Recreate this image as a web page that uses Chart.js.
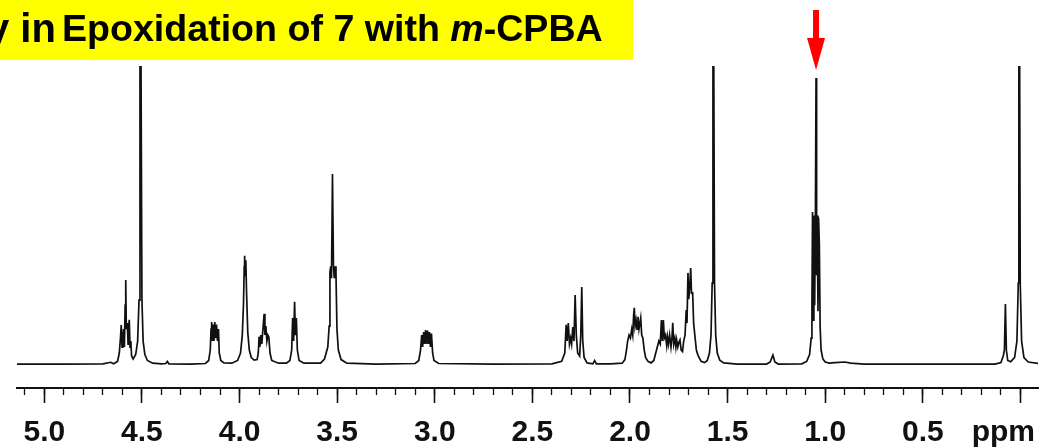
<!DOCTYPE html>
<html>
<head>
<meta charset="utf-8">
<script src="https://cdn.jsdelivr.net/npm/chart.js@4.4.1/dist/chart.umd.min.js"></script>
<style>
  html, body { margin: 0; padding: 0; background: #fff; }
  #wrap { width: 1041px; height: 447px; position: relative; }
</style>
</head>
<body>
<div id="wrap"><canvas id="nmr"></canvas></div>
<script>
// axis range (ppm runs right to left)
const ppmMin = -0.09;
const ppmMax = 5.14;
const majorStep = 0.5;
const minorStep = 0.1;
const heightMin = -7.7;
const heightMax = 100;

// 1H trace: shift (ppm) and height (% of plot height)
const shifts = [
  5.14, 4.90, 4.70, 4.66, 4.645, 4.625, 4.616, 4.610, 4.606, 4.602, 4.598, 4.594, 4.590, 4.586, 4.583, 4.580,
  4.575, 4.571, 4.568, 4.565, 4.561, 4.557, 4.553, 4.545, 4.532, 4.522, 4.515, 4.510, 4.505, 4.500, 4.494, 4.485,
  4.472, 4.445, 4.40, 4.378, 4.370, 4.362, 4.25, 4.175, 4.158, 4.150, 4.146, 4.143, 4.139, 4.135, 4.131, 4.127,
  4.123, 4.118, 4.113, 4.108, 4.104, 4.096, 4.08, 4.04, 4.01, 3.995, 3.986, 3.980, 3.976, 3.974, 3.971, 3.968,
  3.964, 3.958, 3.950, 3.940, 3.925, 3.910, 3.904, 3.900, 3.896, 3.891, 3.886, 3.879, 3.874, 3.870, 3.865, 3.860,
  3.855, 3.850, 3.844, 3.835, 3.80, 3.76, 3.742, 3.733, 3.728, 3.723, 3.718, 3.714, 3.709, 3.704, 3.695, 3.67,
  3.585, 3.565, 3.548, 3.541, 3.537, 3.533, 3.529, 3.524, 3.519, 3.515, 3.510, 3.506, 3.501, 3.494, 3.480, 3.45,
  3.30, 3.10, 3.082, 3.073, 3.067, 3.062, 3.057, 3.052, 3.047, 3.042, 3.037, 3.032, 3.027, 3.022, 3.017, 3.011,
  3.004, 2.98, 2.70, 2.40, 2.35, 2.334, 2.327, 2.322, 2.316, 2.310, 2.304, 2.299, 2.293, 2.287, 2.281, 2.275,
  2.268, 2.258, 2.252, 2.247, 2.242, 2.235, 2.22, 2.19, 2.181, 2.172, 2.10, 2.04, 2.026, 2.018, 2.012, 2.005,
  1.998, 1.991, 1.986, 1.981, 1.978, 1.974, 1.969, 1.964, 1.959, 1.954, 1.949, 1.945, 1.940, 1.934, 1.927, 1.920,
  1.908, 1.892, 1.878, 1.868, 1.860, 1.852, 1.845, 1.839, 1.834, 1.829, 1.824, 1.818, 1.812, 1.808, 1.803, 1.797,
  1.790, 1.785, 1.781, 1.776, 1.770, 1.765, 1.761, 1.755, 1.750, 1.744, 1.738, 1.731, 1.725, 1.718, 1.712, 1.708,
  1.703, 1.699, 1.694, 1.689, 1.685, 1.679, 1.674, 1.667, 1.660, 1.652, 1.636, 1.618, 1.604, 1.593, 1.585, 1.579,
  1.575, 1.571, 1.567, 1.561, 1.553, 1.540, 1.52, 1.45, 1.30, 1.282, 1.268, 1.258, 1.24, 1.12, 1.095, 1.080,
  1.072, 1.068, 1.065, 1.061, 1.058, 1.054, 1.050, 1.047, 1.044, 1.041, 1.037, 1.034, 1.030, 1.026, 1.021, 1.012,
  1.000, 0.980, 0.95, 0.90, 0.87, 0.80, 0.50, 0.13, 0.100, 0.088, 0.082, 0.077, 0.072, 0.065, 0.050, 0.030,
  0.018, 0.011, 0.008, 0.004, 0.001, -0.006, -0.018, -0.040, -0.09
];
const heights = [
  0.3, 0.3, 0.4, 0.9, 0.4, 1.2, 4, 9, 13.4, 6, 9, 12, 6, 20, 28.4, 12,
  14, 7, 12, 15.1, 6, 8, 3, 2, 3.5, 8, 21.7, 105, 105, 21.7, 8, 3.5,
  1.5, 0.6, 0.4, 0.5, 1.2, 0.4, 0.3, 0.5, 1.5, 5, 12, 14.4, 8, 13.5, 8, 14.4,
  9, 13.5, 8, 12, 4, 1.5, 0.7, 0.6, 1.5, 4, 10, 20, 33, 36.5, 30, 35,
  24, 11, 5, 2.5, 1.6, 1.8, 4, 9.4, 6, 10, 7, 13, 17.1, 10, 13, 8,
  10, 9.4, 4, 1.5, 0.6, 0.6, 1.5, 5, 15.7, 8, 21.1, 10, 15.7, 5, 1.5, 0.6,
  0.6, 2, 6, 13, 31, 33, 29, 63.9, 33.4, 29, 33, 30, 12, 5, 1.8, 0.6,
  0.3, 0.5, 1.5, 5, 10, 6, 11, 7, 11.7, 7, 11.5, 7, 11, 6, 10.5, 4,
  1.5, 0.5, 0.3, 0.4, 1.2, 4, 13.4, 8, 14, 7, 9, 7, 12.7, 8, 23.4, 10,
  4, 3, 10, 26.1, 8, 2.5, 0.7, 0.4, 1.5, 0.4, 0.4, 0.6, 1.8, 5, 8, 10,
  9, 12, 10, 17, 19.1, 13, 15, 12, 16.1, 12, 14, 15.7, 10, 9, 5, 2.5,
  1.2, 0.7, 1.5, 4, 6, 8, 7, 15, 8, 15, 9, 10, 6.5, 9.4, 7, 10,
  6, 9, 14.1, 7, 9, 6, 8.4, 6, 7.5, 8.4, 5, 4.5, 8, 10, 18.4, 14,
  30.8, 22, 26, 32.4, 24, 24.1, 14, 9.4, 5, 3.3, 1.2, 0.8, 1.5, 4, 10, 27.4,
  105, 105, 27.4, 10, 4, 1.6, 0.7, 0.3, 0.3, 1.0, 3.3, 1.0, 0.3, 0.4, 1.2, 3.5,
  9, 20, 51.2, 15, 50, 20, 52, 96, 30, 50, 18, 49.2, 40, 12.7, 5, 2,
  1, 0.6, 0.8, 1.0, 0.6, 0.3, 0.3, 0.3, 0.8, 3, 5, 20.4, 5, 1.5, 1.1, 2.5,
  8, 27.4, 99.7, 99.7, 27.4, 8, 2.5, 1, 0.5
];

// highlighted signal
const arrowShift = 1.047;

// title strip
const titleLead = 'y in';
const titleParts = [
  { text: 'Epoxidation of 7 with ', italic: false },
  { text: 'm', italic: true },
  { text: '-CPBA', italic: false }
];

const tickLen = 15;
const tickPad = 15;
const labelSize = 30;

const titleStrip = {
  id: 'titleStrip',
  afterDraw(chart) {
    const ctx = chart.ctx;
    ctx.save();
    ctx.fillStyle = '#ffff00';
    ctx.fillRect(0, 0, 633, 60);
    ctx.fillStyle = '#000';
    ctx.textBaseline = 'alphabetic';
    ctx.font = 'bold 40px "Liberation Sans", Arial, sans-serif';
    ctx.fillText(titleLead, -13, 42);
    let x = 62;
    titleParts.forEach(p => {
      ctx.font = (p.italic ? 'italic ' : '') + 'bold 37.6px "Liberation Sans", Arial, sans-serif';
      ctx.fillText(p.text, x, 41);
      x += ctx.measureText(p.text).width;
    });
    ctx.restore();
  }
};

const extras = {
  id: 'extras',
  afterDraw(chart) {
    const ctx = chart.ctx;
    const xs = chart.scales.x;
    ctx.save();
    // unit label in place of the 0 tick
    ctx.fillStyle = '#111';
    ctx.font = 'bold ' + labelSize + 'px "Liberation Sans", Arial, sans-serif';
    ctx.textAlign = 'right';
    ctx.textBaseline = 'middle';
    ctx.fillText('ppm', xs.right - 3, xs.top + tickLen + tickPad + labelSize / 2);
    // red arrow over the highlighted signal
    const ax = xs.getPixelForValue(arrowShift);
    ctx.fillStyle = '#ff0000';
    ctx.fillRect(ax - 3, 10, 6, 30);
    ctx.beginPath();
    ctx.moveTo(ax - 9, 38);
    ctx.lineTo(ax + 9, 38);
    ctx.lineTo(ax, 70);
    ctx.closePath();
    ctx.fill();
    ctx.restore();
  }
};

const points = shifts.map((s, i) => ({ x: s, y: heights[i] }));

new Chart(document.getElementById('nmr'), {
  type: 'line',
  data: {
    datasets: [{
      data: points,
      borderColor: '#101010',
      borderWidth: 1.7,
      pointRadius: 0,
      tension: 0,
      fill: false
    }]
  },
  options: {
    responsive: true,
    maintainAspectRatio: false,
    animation: false,
    layout: { padding: { left: 17, right: 3, top: 66, bottom: -16 } },
    plugins: { legend: { display: false }, title: { display: false }, tooltip: { enabled: false } },
    scales: {
      x: {
        type: 'linear',
        reverse: true,
        min: ppmMin,
        max: ppmMax,
        position: 'bottom',
        border: { display: true, color: '#111', width: 2 },
        grid: { drawOnChartArea: false, drawTicks: true, tickLength: tickLen, tickColor: '#111', tickWidth: 1.6 },
        ticks: {
          stepSize: majorStep,
          includeBounds: false,
          padding: tickPad,
          color: '#111',
          maxRotation: 0,
          font: { family: '"Liberation Sans", Arial, sans-serif', size: labelSize, weight: 'bold', lineHeight: 1 },
          callback: v => Math.abs(v) < 1e-9 ? '' : v.toFixed(1)
        }
      },
      xm: {
        type: 'linear',
        reverse: true,
        min: ppmMin,
        max: ppmMax,
        position: { y: heightMin },
        border: { display: false },
        grid: { drawOnChartArea: false, drawTicks: true, tickLength: 7, tickColor: '#111', tickWidth: 1.3 },
        ticks: { stepSize: minorStep, includeBounds: false, display: false }
      },
      y: {
        display: false,
        min: heightMin,
        max: heightMax
      }
    }
  },
  plugins: [titleStrip, extras]
});
</script>
</body>
</html>
